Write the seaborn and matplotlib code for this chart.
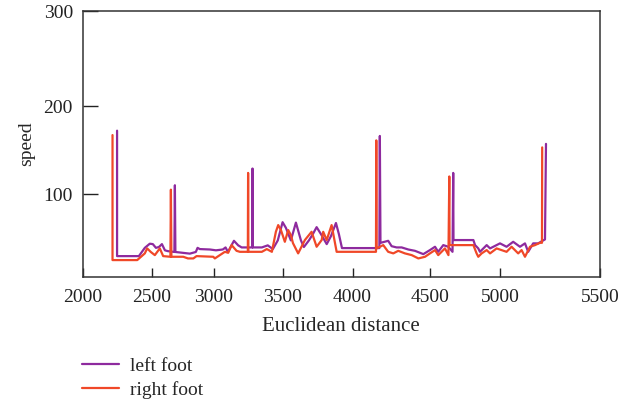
import matplotlib
matplotlib.use("Agg")
import matplotlib.pyplot as plt
import numpy as np
import pandas as pd
import seaborn as sns

# left foot (purple) trace
left_x = [2250, 2250, 2408, 2451, 2487, 2510, 2535, 2559, 2583, 2607, 2631, 2683, 2687, 2691,
          2807, 2855, 2869, 2887, 2968, 3015, 3065, 3085, 3102, 3146, 3177, 3202, 3280, 3281,
          3283, 3349, 3392, 3429, 3465, 3500, 3524, 3559, 3595, 3631, 3652, 3688, 3716, 3743,
          3774, 3815, 3845, 3881, 3902, 3924, 4173, 4176, 4180, 4230, 4252, 4284, 4317, 4360,
          4403, 4457, 4500, 4536, 4559, 4595, 4631, 4661, 4666, 4668, 4810, 4822, 4845, 4857,
          4905, 4929, 5000, 5033, 5066, 5100, 5125, 5141, 5166, 5191, 5225, 5230]
left_y = [172, 25, 25, 35, 40, 39.5, 35, 36, 39.5, 32, 31, 30, 110, 30,
          28, 30, 35, 33.5, 33, 32, 33, 35.5, 30, 43.5, 38, 35.5, 35.5, 129,
          35.5, 35.5, 38, 33.5, 44, 66, 59, 44, 65.5, 44, 36, 44, 51.6, 60,
          51.6, 39.5, 49, 65, 51.6, 34.7, 34.7, 166, 41, 43.5, 37, 35.5, 35.5, 33,
          31.4, 27.4, 32.3, 36.3, 30.2, 38.3, 36.3, 30.2, 124, 44.4, 44.4, 38.3, 34.3, 30.2,
          38.3, 34.3, 40.4, 36.3, 42.3, 36.3, 40.4, 30.2, 40.4, 40.4, 45.2, 157]

# right foot (red) trace
right_x = [2217, 2217, 2396, 2451, 2468, 2495, 2526, 2566, 2593, 2651, 2655, 2659, 2754, 2792,
           2835, 2861, 2995, 3007, 3080, 3104, 3129, 3165, 3189, 3247, 3249, 3251, 3349, 3385,
           3422, 3451, 3468, 3488, 3516, 3540, 3559, 3574, 3611, 3659, 3707, 3743, 3779, 3790,
           3815, 3850, 3886, 4151, 4153, 4155, 4198, 4230, 4263, 4295, 4338, 4382, 4425, 4468,
           4500, 4536, 4559, 4607, 4632, 4638, 4640, 4810, 4833, 4845, 4869, 4905, 4929, 4976,
           5033, 5058, 5091, 5108, 5125, 5150, 5175, 5200, 5210, 5211]
right_y = [167, 20.2, 20.2, 28.3, 34.3, 29.9, 26.2, 34.3, 25, 24.2, 105, 24.2, 24.2, 22.2,
           22.2, 25, 24.2, 22.2, 30.2, 29, 38.3, 31.4, 30.2, 30.2, 124, 30.2, 30.2, 33.5,
           30.2, 54.4, 62.5, 56.5, 42.3, 56.5, 50.4, 40.7, 28.3, 44.4, 54.4, 36.3, 44.4, 54.4,
           44.4, 62.5, 30.2, 30.2, 161, 34.3, 38.3, 30.2, 28.3, 31.4, 28.3, 26.2, 22.2, 24.2,
           28.3, 32.3, 26.2, 34.3, 26.2, 120, 38.3, 38.3, 28.3, 24.2, 28.3, 32.3, 28.3, 34.3,
           30.2, 36.3, 28.3, 32.3, 24.2, 36.3, 38.3, 41.1, 41.1, 153]

x_ticks = [2000, 2500, 3000, 3500, 4000, 4500, 5000, 5500]
y_ticks = [100, 200, 300]

# the original axes are not evenly spaced: tick value -> fraction of axis
x_frac = [0, 0.1334, 0.2538, 0.3866, 0.5219, 0.6714, 0.8067, 1.0]
y_vals = [0, 100, 200, 300]
y_frac = [0, 0.3113, 0.6425, 1.0]

df = pd.concat([
    pd.DataFrame({"x": left_x, "y": left_y, "foot": "left foot"}),
    pd.DataFrame({"x": right_x, "y": right_y, "foot": "right foot"}),
])

sns.set_style("ticks")
plt.rcParams["font.family"] = ["Liberation Serif", "DejaVu Serif"]

fig = plt.figure(figsize=(6.4, 4), dpi=100)
ax = fig.add_axes([0.129, 0.308, 0.8085, 0.6645])

ax.set_xscale("function", functions=(lambda v: np.interp(v, x_ticks, x_frac),
                                     lambda f: np.interp(f, x_frac, x_ticks)))
ax.set_yscale("function", functions=(lambda v: np.interp(v, y_vals, y_frac),
                                     lambda f: np.interp(f, y_frac, y_vals)))

sns.lineplot(data=df, x="x", y="y", hue="foot", sort=False, estimator=None,
             palette={"left foot": "#8E2A9E", "right foot": "#F04828"},
             linewidth=1.6, ax=ax)

ax.set_xlim(2000, 5500)
ax.set_ylim(0, 300)
ax.set_xticks(x_ticks)
ax.set_xticklabels([str(t) for t in x_ticks])
ax.set_yticks(y_ticks)
ax.set_yticklabels([str(t) for t in y_ticks])
ax.minorticks_off()
ax.tick_params(axis="x", direction="in", length=6.5, width=1, labelsize=14, pad=9, colors="#222222")
ax.tick_params(axis="y", direction="in", length=11, width=1, labelsize=14, pad=7, colors="#222222")
for s in ax.spines.values():
    s.set_color("#333333")
    s.set_linewidth(1.1)

ax.set_xlabel("Euclidean distance", fontsize=15, labelpad=8)
ax.set_ylabel("speed", fontsize=14, labelpad=6)

handles, labels = ax.get_legend_handles_labels()
ax.get_legend().remove()
fig.legend(handles, labels, loc="upper left", bbox_to_anchor=(0.1277, 0.106),
           frameon=False, fontsize=14, handlelength=1.9, handletextpad=0.6,
           labelspacing=0.3, borderpad=0, borderaxespad=0)

fig.savefig("out.png", dpi=100)
